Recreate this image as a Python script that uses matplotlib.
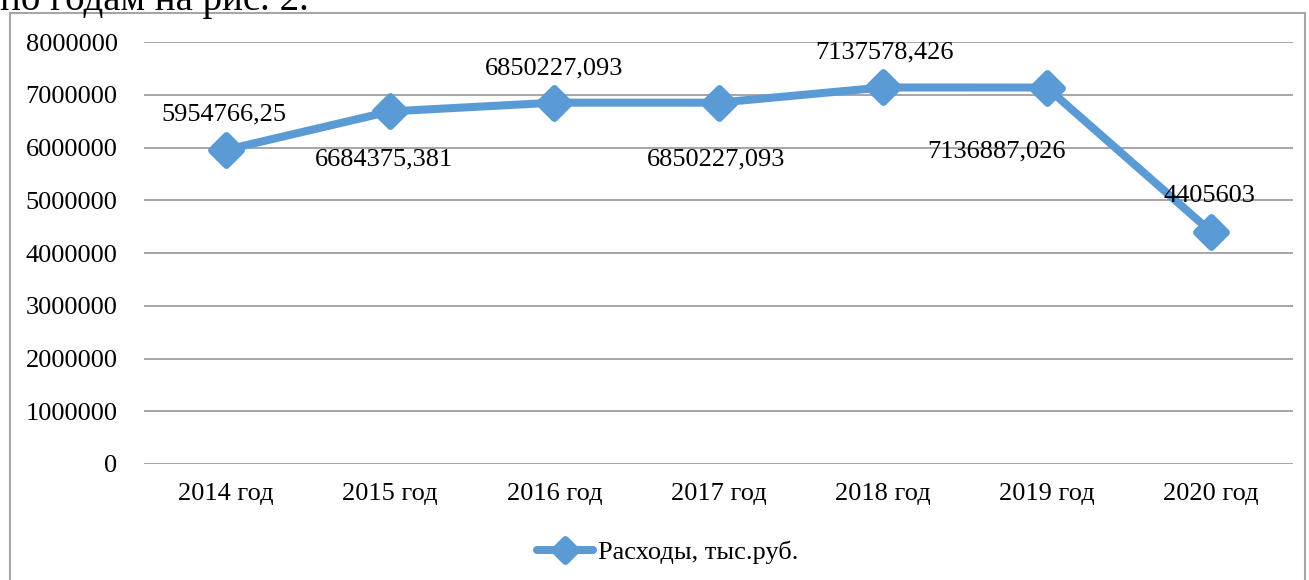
import matplotlib
matplotlib.use("Agg")
import matplotlib.pyplot as plt
from matplotlib.patches import Rectangle
from matplotlib.markers import MarkerStyle

categories = ["2014 год", "2015 год", "2016 год", "2017 год", "2018 год", "2019 год", "2020 год"]
values = [5954766.25, 6684375.381, 6850227.093, 6850227.093, 7137578.426, 7136887.026, 4405603]
labels = ["5954766,25", "6684375,381", "6850227,093", "6850227,093", "7137578,426", "7136887,026", "4405603"]
series_name = "Расходы, тыс.руб."
yticks = [0, 1000000, 2000000, 3000000, 4000000, 5000000, 6000000, 7000000, 8000000]

# label offsets from their points, in pixels (dx, dy up)
label_offsets = [(-2, 35), (-6, -48), (0, 34), (-2, -57), (2, 35), (-50, -64), (-1, 36)]

plt.rcParams['font.family'] = ['Liberation Serif', 'DejaVu Serif']
color = "#5B9BD5"
fs = 19

fig = plt.figure(figsize=(13.09, 5.80), dpi=100)
ax = fig.add_axes([144/1309, 1-464/580, (1293-144)/1309, (464-42)/580])

x = list(range(len(categories)))
mk = MarkerStyle('D', joinstyle='round')
ax.plot(x, values, color=color, lw=5.8, marker=mk, markersize=15,
        solid_joinstyle='round', solid_capstyle='round',
        markeredgecolor=color, markeredgewidth=5, markerfacecolor=color,
        label=series_name, zorder=3)

for xi, v, lab, (dx, dy) in zip(x, values, labels, label_offsets):
    ax.annotate(lab, (xi, v), xytext=(dx, dy), textcoords='offset pixels',
                ha='center', va='center', fontsize=fs, color='black', zorder=4)

ax.set_xlim(-0.5, len(categories)-0.5)
ax.set_ylim(0, 8000000)
ax.set_yticks(yticks)
ax.set_yticklabels([str(t) for t in yticks])
ax.set_xticks(x)
ax.set_xticklabels(categories)
ax.tick_params(axis='y', length=0, pad=19, labelsize=fs)
ax.tick_params(axis='x', length=0, pad=14, labelsize=fs)
ax.grid(axis='y', color='#A6A6A6', lw=1.4)
ax.set_axisbelow(True)
for s in ax.spines.values():
    s.set_visible(False)

leg = fig.legend(loc='center', bbox_to_anchor=(668/1309, 1-552/580), frameon=False,
                 fontsize=fs, handlelength=2.1, handletextpad=0.2, markerscale=0.75)

fig.patches.append(Rectangle((10/1309, -0.05), (1305-10)/1309, 1.05-13/580,
                             transform=fig.transFigure, fill=False,
                             edgecolor='#A6A6A6', lw=1.5, clip_on=False))

fig.text(0.0, 1-10/580, "по годам на рис. 2.", fontsize=28, ha='left', va='baseline')

fig.savefig("out.png", dpi=100)
